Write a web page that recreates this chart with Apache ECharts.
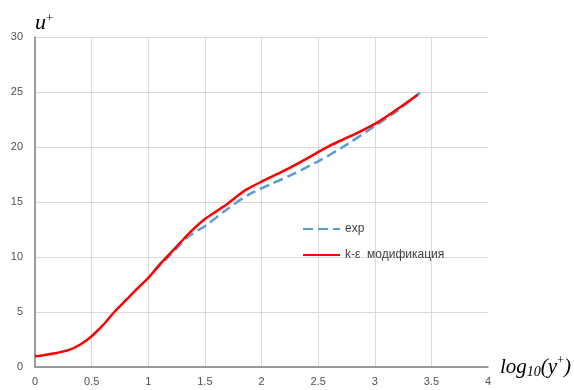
<!DOCTYPE html>
<html>
<head>
<meta charset="utf-8">
<script src="https://cdn.jsdelivr.net/npm/echarts@6/dist/echarts.min.js"></script>
<style>
  html, body { margin: 0; padding: 0; background: #fff; }
  #chart { width: 574px; height: 390px; }
</style>
</head>
<body>
<div id="chart"></div>
<script>
// Velocity profile u+ against log10(y+): measured data vs. modified k-ε model
const modelX = [0, 0.1, 0.2, 0.3, 0.4, 0.5, 0.6, 0.7, 0.8, 0.9, 1.0, 1.1, 1.2, 1.3, 1.4, 1.5, 1.6, 1.7, 1.8, 1.87, 2.0, 2.2, 2.4, 2.6, 2.8, 3.0, 3.2, 3.38];
const modelY = [0.97, 1.12, 1.3, 1.55, 2.05, 2.8, 3.8, 5.0, 6.05, 7.1, 8.1, 9.3, 10.4, 11.5, 12.55, 13.45, 14.15, 14.85, 15.65, 16.15, 16.85, 17.85, 18.95, 20.1, 21.05, 22.1, 23.45, 24.75];

const expX = [1.05, 1.157, 1.27, 1.36, 1.51, 1.69, 1.89, 2.1, 2.25, 2.5, 2.75, 3.0, 3.2, 3.4];
const expY = [8.7, 9.8, 11.0, 11.9, 12.87, 14.3, 15.7, 16.7, 17.4, 18.7, 20.2, 21.9, 23.3, 24.95];

const seriesNames = ['exp', 'k-ε  модификация'];

const pairs = (xs, ys) => xs.map((x, i) => [x, ys[i]]);

const chart = echarts.init(document.getElementById('chart'));

chart.setOption({
  animation: false,
  backgroundColor: '#ffffff',
  grid: { left: 35, right: 86, top: 37, bottom: 23, containLabel: false },
  legend: {
    left: 302,
    top: 223,
    padding: 0,
    orient: 'vertical',
    itemWidth: 37,
    itemHeight: 14,
    itemGap: 14,
    data: seriesNames,
    itemStyle: { opacity: 0 },
    textStyle: { fontFamily: 'Liberation Sans, Arial, sans-serif', fontSize: 12, color: '#404040' }
  },
  xAxis: {
    type: 'value',
    min: 0, max: 4, interval: 0.5,
    name: '{i|log}{s|10}{i|(y}{p|+}{i|)}',
    nameLocation: 'end',
    nameGap: 12,
    nameTextStyle: {
      align: 'left',
      rich: {
        i: { fontFamily: 'Liberation Serif, serif', fontStyle: 'italic', fontSize: 21, color: '#000', lineHeight: 24 },
        s: { fontFamily: 'Liberation Serif, serif', fontStyle: 'italic', fontSize: 14, color: '#000', lineHeight: 24, verticalAlign: 'bottom' },
        p: { fontFamily: 'Liberation Serif, serif', fontSize: 12, color: '#000', lineHeight: 24, verticalAlign: 'top' }
      }
    },
    axisLine: { lineStyle: { color: '#808080', width: 1.5 } },
    axisTick: { show: false },
    axisLabel: { margin: 9, fontFamily: 'Liberation Sans, Arial, sans-serif', fontSize: 11, color: '#505050' },
    splitLine: { show: true, showMaxLine: false, lineStyle: { color: '#d9d9d9', width: 1 } }
  },
  yAxis: {
    type: 'value',
    min: 0, max: 30, interval: 5,
    name: '{u|u}{p|+}',
    nameLocation: 'end',
    nameGap: 3,
    nameTextStyle: {
      align: 'left',
      rich: {
        u: { fontFamily: 'Liberation Serif, serif', fontStyle: 'italic', fontSize: 22, color: '#000', lineHeight: 22 },
        p: { fontFamily: 'Liberation Serif, serif', fontSize: 13, color: '#000', lineHeight: 22, verticalAlign: 'top' }
      }
    },
    axisLine: { show: true, lineStyle: { color: '#808080', width: 1.5 } },
    axisTick: { show: false },
    axisLabel: { margin: 12, fontFamily: 'Liberation Sans, Arial, sans-serif', fontSize: 11, color: '#505050' },
    splitLine: { show: true, lineStyle: { color: '#d9d9d9', width: 1 } }
  },
  series: [
    {
      name: seriesNames[0],
      type: 'line',
      data: pairs(expX, expY),
      smooth: 0.3,
      symbol: 'none',
      lineStyle: { color: '#5b9bd5', width: 2.5, type: [10, 5] },
      itemStyle: { color: '#5b9bd5' },
      z: 2
    },
    {
      name: seriesNames[1],
      type: 'line',
      data: pairs(modelX, modelY),
      smooth: 0.3,
      symbol: 'none',
      lineStyle: { color: '#ff0000', width: 2.5 },
      itemStyle: { color: '#ff0000' },
      z: 3
    }
  ]
});
</script>
</body>
</html>
